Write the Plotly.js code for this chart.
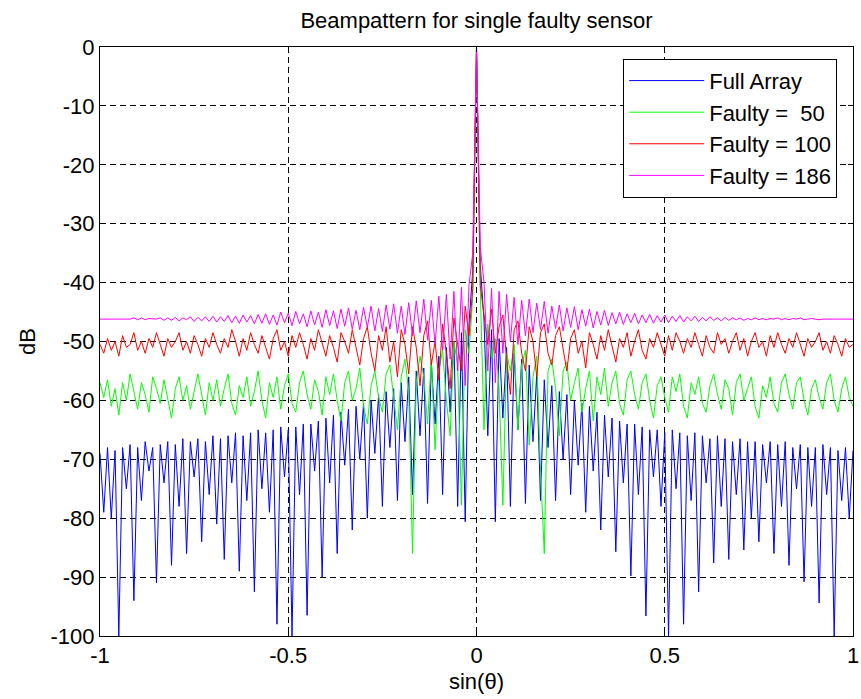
<!DOCTYPE html>
<html>
<head>
<meta charset="utf-8">
<script src="https://cdn.plot.ly/plotly-3.0.1.min.js"></script>
<style>html,body{margin:0;padding:0;background:#fff;}#chart{width:861px;height:699px;}</style>
</head>
<body>
<div id="chart"></div>
<script>
// sin(theta) grid: start and step of the sampled beampattern
const xStart = -1;
const xStep = 0.01;

const seriesNames = ['Full Array', 'Faulty = \u00a050', 'Faulty = 100', 'Faulty = 186'];

const fullArray = [
-69,-79,-68,-80,-68.5,-100,-68,-75,-67.5,-94,
-68,-77,-67,-72,-68,-91,-67.5,-74,-67,-88,
-67.5,-78,-66.5,-86,-67,-73,-66.5,-84,-67,-76,
-66,-81,-66.5,-87,-66,-74,-65.5,-89,-66,-77,
-65.5,-92.5,-65,-75,-65.5,-79,-65,-98,-64.5,-73,
-65,-100,-64.5,-76,-64,-96.5,-64,-72,-63.5,-90,
-63,-74,-62.5,-86,-62,-71,-61.5,-82,-61,-70,
-60.5,-80,-60,-69,-59,-78,-58.5,-68,-58,-77,
-57,-67,-56,-76,-55,-66,-54.5,-77.5,-53.5,-64,
-52.5,-76,-51,-62,-50,-78,-48.5,-80.6,-47,-38,
0,
-37,-46.5,-66,-48,-80.6,-49.5,-63,-51,-78,-52,
-65,-53,-77.5,-54,-67,-55.5,-77,-56.5,-68,-57.5,
-77,-58.5,-70,-59,-76,-60,-71,-60.5,-79,-61,
-72,-62,-82,-62.5,-73,-63,-85.7,-63.5,-74,-64,
-89.8,-64,-76,-64.5,-96.6,-65,-73,-65,-78,-65.5,
-100,-65,-75,-65.5,-98,-66,-77,-65.5,-92.5,-66,
-74,-66.5,-87.6,-66,-78,-66.5,-87,-67,-76,-66.5,
-85.4,-67,-80,-67,-84,-67.5,-74,-67,-86,-67.5,
-78,-67,-88,-68,-75,-67.5,-90.8,-68,-78,-68,
-94.4,-67.5,-76,-68,-100,-68.5,-77,-68,-80,-68.5
];

const faulty50 = [
-57,-59.5,-56.5,-61,-58,-62.5,-57,-60,-55.5,-58.5,
-61.5,-57,-59,-62,-56,-58,-60.5,-56.5,-59.5,-63,
-58,-56,-60,-57.5,-61.5,-58.5,-55.5,-59,-62.5,-57,
-60,-56.5,-61,-58,-55.5,-60.5,-62.5,-57.5,-59.5,-56,
-61,-58.5,-55,-60,-63,-57,-59.5,-56,-61.5,-57.5,
-55.5,-60.5,-62,-57,-55,-59,-61.5,-56.5,-58.5,-62.5,
-56,-59,-55.5,-60,-63.5,-57,-55,-60,-58,-54.5,
-61,-64,-57.5,-55,-59.5,-62,-55.5,-54,-60,-65,
-56,-53,-58.5,-86,-57,-52.5,-56,-64,-53,-68.4,
-55,-51.5,-60,-66,-50,-54,-77.8,-48,-52,-42.5,
0,
-41,-65,-47,-53,-49.5,-58,-77.8,-52,-55,-50.5,
-65,-54,-51.5,-67.6,-56,-52.5,-71.8,-86,-55,-53,
-58,-66,-55,-53.5,-60,-57,-54.5,-62,-58,-55,
-63.5,-56,-59,-54.5,-61,-57,-55,-60.5,-62.5,-56.5,
-55,-59,-61.5,-57,-55.5,-60,-63,-57.5,-56,-59.5,
-62,-56,-58.5,-55.5,-61,-63,-57,-59,-56,-60.5,
-62,-57.5,-55.5,-59,-61.5,-56.5,-58,-62.5,-57,-55.5,
-60,-58,-56,-61,-63,-57.5,-59.5,-56,-60.5,-62,
-57,-55.5,-59,-61.5,-57,-56,-60,-62.5,-58,-56.5,
-59.5,-61.5,-57,-55.5,-60,-62,-58,-56,-59.5,-61
];

const faulty100 = [
-50.5,-52,-49.5,-51.5,-50,-52.5,-49,-51,-50.5,-48.5,
-51.5,-50,-52,-49.5,-51,-48.5,-50.5,-52.5,-49.5,-51,
-50,-48.5,-51.5,-50,-52,-49,-50.5,-52.5,-49.5,-51,
-48.5,-50.5,-52,-49.5,-51,-48,-50,-52.5,-49.5,-51.5,
-48.5,-50.5,-52,-49,-51,-53,-49.5,-48,-51.5,-50,
-52.5,-49,-51,-48.5,-50.5,-53,-49.5,-51.5,-48,-50.5,
-52.5,-49,-51,-53.5,-48.5,-50,-52,-48,-51,-54,
-49.5,-47.5,-52,-55,-49,-51.5,-47.5,-53.5,-50,-56,
-48,-50.5,-55.5,-47.5,-51,-57.5,-49,-46.5,-54,-50,
-56.5,-47,-52,-58,-46,-50.5,-55,-44,-49,-41,
0,
-40.5,-46,-50.5,-44.5,-52,-47.5,-45.5,-53,-59,-48,
-46.5,-52,-55,-47.5,-50,-56,-48.5,-47,-52,-54,
-49,-47.5,-51.5,-55,-49.5,-48,-52,-50,-54.5,-48.5,
-50.5,-53,-49,-51.5,-48,-50.5,-53.5,-49.5,-51,-48.5,
-52.5,-50,-48,-51.5,-53,-49.5,-51,-48.5,-50.5,-52.5,
-49,-51.5,-48.5,-50,-52,-49.5,-51,-48.5,-50.5,-52.5,
-49,-51,-52,-48.5,-50.5,-49.5,-52,-50,-48.5,-51.5,
-49.5,-52.5,-50,-48.5,-51,-50,-52.5,-49,-51,-48.5,
-50.5,-52,-49.5,-51,-48.5,-50.5,-52.5,-49.5,-51,-50,
-48.5,-51.5,-50,-52,-49,-50.5,-52.5,-49.5,-51,-50.5
];

const faulty186 = [
-46.2,-46.2,-46.2,-46.2,-46.2,-46.2,-46.2,-46.2,-46.2,-46.0,
-46.3,-46.0,-46.3,-46.1,-46.2,-46.2,-46.0,-46.4,-46.0,-46.4,
-45.9,-46.5,-46.0,-46.3,-45.8,-46.6,-45.9,-46.5,-45.8,-46.6,
-45.7,-46.7,-45.8,-46.6,-45.6,-46.8,-45.7,-46.9,-45.5,-46.7,
-45.6,-47.0,-45.4,-46.9,-45.3,-47.1,-45.5,-47.2,-45.0,-46.8,
-45.2,-47.3,-44.9,-47.0,-45.3,-47.5,-44.8,-47.2,-45.0,-47.6,
-44.6,-47.3,-44.8,-47.8,-44.5,-47.4,-44.3,-47.9,-44.7,-48.0,
-44.2,-47.6,-44.0,-48.2,-44.4,-48.3,-43.8,-47.9,-43.6,-48.6,
-44.0,-48.8,-43.4,-49.0,-43.1,-48.5,-42.8,-49.8,-43.0,-50.5,
-42.3,-51.5,-42.0,-53,-41.5,-55,-40.8,-57.5,-40.5,-35,
0,
-34,-40,-55,-41,-57,-41.5,-52,-42,-50,-42.5,
-50.5,-43,-49,-42.8,-48.5,-43.5,-48,-43.2,-48.6,-44,
-47.8,-43.8,-48.2,-44.3,-47.6,-44.1,-48,-44.6,-47.4,-44.5,
-47.7,-44.9,-47.2,-44.7,-47.3,-45.1,-47.0,-45.0,-47.1,-45.3,
-46.8,-45.2,-47.0,-45.5,-46.8,-45.4,-46.9,-45.6,-46.7,-45.5,
-46.8,-45.7,-46.6,-45.6,-46.7,-45.8,-46.5,-45.7,-46.6,-45.9,
-46.5,-45.8,-46.4,-46.0,-46.5,-45.9,-46.4,-46.0,-46.3,-46.0,
-46.4,-46.1,-46.3,-46.0,-46.3,-46.1,-46.3,-46.1,-46.2,-46.0,
-46.3,-46.1,-46.3,-46.1,-46.2,-46.0,-46.3,-46.2,-46.1,-46.2,
-46.3,-46.2,-46.2,-46.2,-46.2,-46.2,-46.2,-46.2,-46.2,-46.2
];

const xTickVals = [-1, -0.5, 0, 0.5, 1];
const xTickText = ['-1', '-0.5', '0', '0.5', '1'];
const yTickVals = [-100, -90, -80, -70, -60, -50, -40, -30, -20, -10, 0];
const yTickText = ['-100', '-90', '-80', '-70', '-60', '-50', '-40', '-30', '-20', '-10', '0'];

const colors = ['#0000ff', '#00ff00', '#ff0000', '#ff00ff'];
const allSeries = [fullArray, faulty50, faulty100, faulty186];

const traces = allSeries.map((ys, k) => ({
  type: 'scatter',
  mode: 'lines',
  name: seriesNames[k],
  x0: xStart,
  dx: xStep,
  y: ys,
  line: {color: colors[k], width: 1},
  hoverinfo: 'skip'
}));

const FONT = 'Liberation Sans, Arial, Helvetica, sans-serif';
const FS = 22;
const axisCommon = {
  showline: true, linecolor: '#000', linewidth: 1, mirror: 'ticks',
  ticks: 'inside', ticklen: 5, tickcolor: '#000', tickwidth: 1,
  showgrid: true, gridcolor: '#000', gridwidth: 1, griddash: '6px,4px',
  zeroline: false, tickfont: {family: FONT, size: FS, color: '#000'}
};

const layout = {
  width: 861, height: 699,
  margin: {l: 100, r: 8, t: 47, b: 63, pad: 0},
  paper_bgcolor: '#fff', plot_bgcolor: '#fff',
  font: {family: FONT, size: FS, color: '#000'},
  showlegend: true,
  title: {text: 'Beampattern for single faulty sensor', font: {family: FONT, size: FS, color: '#000'},
          x: 0.5, xref: 'paper', y: 1 - 20/699, yref: 'container', yanchor: 'middle'},
  xaxis: Object.assign({}, axisCommon, {
    range: [-1, 1], tickmode: 'array', tickvals: xTickVals, ticktext: xTickText,
    title: {text: 'sin(θ)', font: {family: FONT, size: FS, color: '#000'}, standoff: 6}
  }),
  yaxis: Object.assign({}, axisCommon, {
    range: [-100, 0], tickmode: 'array', tickvals: yTickVals, ticktext: yTickText,
    title: {text: 'dB', font: {family: FONT, size: FS, color: '#000'}, standoff: 8}
  }),
  legend: {
    x: 0.979, xanchor: 'right', y: 0.98, yanchor: 'top',
    bgcolor: '#fff', bordercolor: '#000', borderwidth: 1,
    font: {family: FONT, size: FS, color: '#000'}, tracegroupgap: 0, itemwidth: 75
  }
};

Plotly.newPlot('chart', traces, layout, {staticPlot: true, displayModeBar: false});
</script>
</body>
</html>
